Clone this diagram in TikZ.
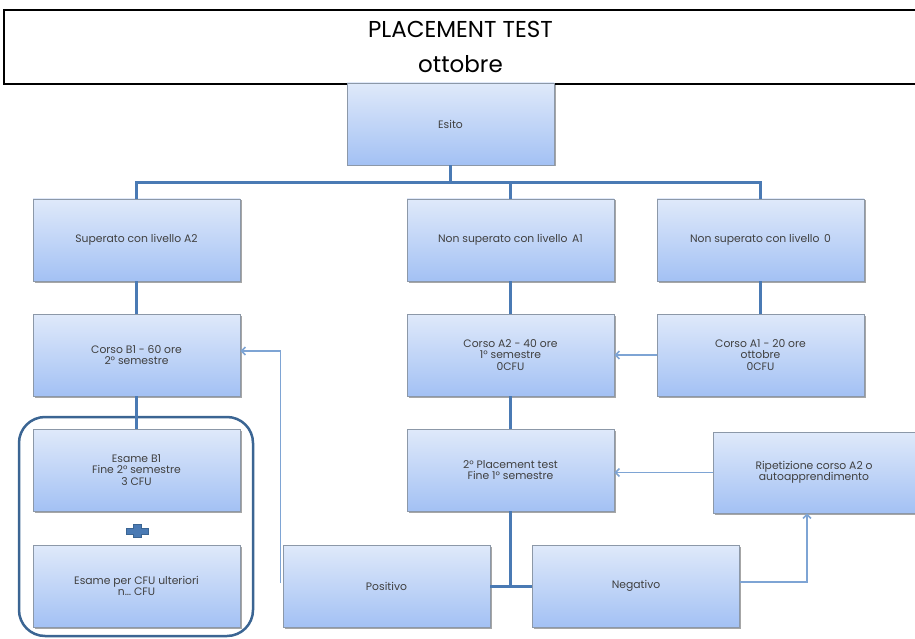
\documentclass[tikz,border=0pt]{standalone}
\usepackage{fontspec}
\setmainfont{Poppins}
\usetikzlibrary{arrows.meta,shadows,fit,calc}
\definecolor{topc}{HTML}{DFE9FA}
\definecolor{botc}{HTML}{A3C1F4}
\definecolor{edgec}{HTML}{8C98A8}
\definecolor{connc}{HTML}{4A7AB4}
\definecolor{thinc}{HTML}{7EA4D4}
\definecolor{grpc}{HTML}{3B6593}
\tikzset{
 bx/.style={draw=edgec, line width=0.8pt, top color=topc, bottom color=botc,
   minimum width=207pt, minimum height=82pt, inner sep=0pt, align=center,
   font=\fontsize{10.8}{11.5}\selectfont, text=black!75,
   drop shadow={shadow xshift=1.5pt, shadow yshift=-1.5pt, fill=black, opacity=0.35}},
 thickc/.style={draw=connc, line width=3pt},
 thinarr/.style={draw=thinc, line width=1.5pt, -{Straight Barb[length=4pt,width=8pt]}},
}
\begin{document}
\begin{tikzpicture}[x=1pt,y=-1pt]
\useasboundingbox (0,0) rectangle (915,639);
\node[draw=black, line width=2.5pt, minimum width=913pt, minimum height=74pt, inner sep=0pt,
  align=center, font=\fontsize{23}{35}\selectfont] (title) at (460.5,47)
  {PLACEMENT TEST\\ottobre};

\node[bx] (esito) at (450.5,124) {Esito};
\node[bx] (sup) at (136.5,240) {Superato con livello A2};
\node[bx] (nsa) at (510.5,240) {Non superato con livello\, A1};
\node[bx] (nsz) at (760.5,240) {Non superato con livello\, 0};
\node[bx] (cb1) at (136.5,355) {Corso B1 - 60 ore\\2° semestre};
\node[bx] (ca2) at (510.5,355) {Corso A2 - 40 ore\\1° semestre\\0CFU};
\node[bx] (ca1) at (760.5,355) {Corso A1 - 20 ore\\ottobre\\0CFU};
\node[bx] (eb1) at (136.5,470) {Esame B1\\Fine 2° semestre\\3 CFU};
\node[bx] (pt2) at (510.5,470) {2° Placement test\\Fine 1° semestre};
\node[bx, minimum width=202pt, minimum height=81pt] (rip) at (814,472.5) {Ripetizione corso A2 o\\autoapprendimento};
\node[bx] (ecfu) at (136.5,586) {Esame per CFU ulteriori\\n… CFU};
\node[bx] (pos) at (386.5,586) {Positivo};
\node[bx] (neg) at (636,586) {Negativo};

\node[draw=grpc, line width=2.5pt, rounded corners=26pt, inner sep=0pt,
  fit={(19,417) (253,636)}] (grp) {};

% plus sign
\filldraw[fill=connc, draw=grpc, line width=0.6pt]
  (126,528) -- (133,528) -- (133,524) -- (141,524) -- (141,528) -- (148,528)
  -- (148,534) -- (141,534) -- (141,537) -- (133,537) -- (133,534) -- (126,534) -- cycle;

% thick connectors
\coordinate (bar) at (450.5,183);
\draw[thickc] (esito.south) -- (bar);
\draw[thickc] (sup.north) -- (sup.north |- bar) -- (nsz.north |- bar) -- (nsz.north);
\draw[thickc] (nsa.north) -- (nsa.north |- bar);
\draw[thickc] (sup.south) -- (cb1.north);
\draw[thickc] (cb1.south) -- (eb1.north);
\draw[thickc] (nsa.south) -- (ca2.north);
\draw[thickc] (nsz.south) -- (ca1.north);
\draw[thickc] (ca2.south) -- (pt2.north);
\draw[thickc] (pt2.south) -- (pt2.south |- pos.east);
\draw[thickc] (pos.east) -- (neg.west);

% thin arrows
\draw[thinarr] (ca1.west) -- (ca2.east);
\draw[thinarr] (rip.west) -- (rip.west -| pt2.east);
\draw[thinarr] ([yshift=4pt]neg.east) -| ([xshift=-7pt]rip.south);
\coordinate (pfoot) at ([xshift=-2pt,yshift=3pt]pos.west);
\draw[thinarr] (pfoot) |- ([yshift=4pt]cb1.east);
\end{tikzpicture}
\end{document}
